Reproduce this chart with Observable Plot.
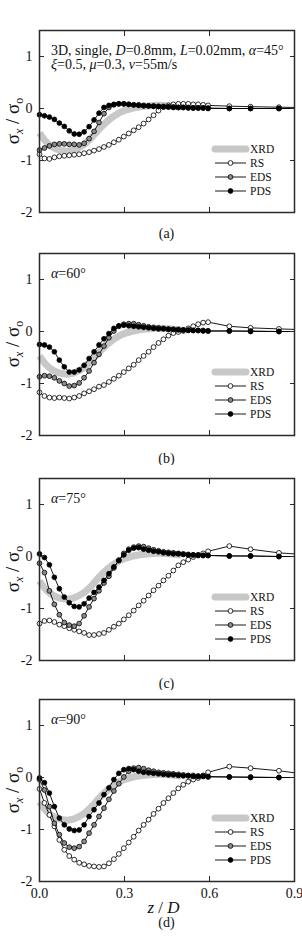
<!DOCTYPE html>
<html>
<head>
<meta charset="utf-8">
<script src="https://cdn.jsdelivr.net/npm/d3@7"></script>
<script src="https://cdn.jsdelivr.net/npm/@observablehq/plot@0.6"></script>
<style>
  body { margin: 0; background: #fff; }
  #chart svg { display: block; }
</style>
</head>
<body>
<div id="chart"></div>
<script>
// Normalised depth z/D of the sampled nodes: fine spacing near the surface, coarse below.
const zDense = [0, 0.0175, 0.035, 0.0525, 0.07, 0.0875, 0.105, 0.1225, 0.14, 0.1575,
  0.175, 0.1925, 0.21, 0.2275, 0.245, 0.2625, 0.28, 0.2975, 0.315, 0.3325,
  0.35, 0.3675, 0.385, 0.4025, 0.42, 0.4375, 0.455, 0.4725, 0.49, 0.5075,
  0.525, 0.5425, 0.56, 0.5775, 0.595];
const zTail = [0.67, 0.745, 0.845, 0.9];
const depth = [...zDense, ...zTail];

// Measured X-ray diffraction profile (same in every panel)
const xrdZ = [0, 0.02, 0.04, 0.06, 0.08, 0.1, 0.12, 0.15, 0.18, 0.21, 0.24, 0.27, 0.3, 0.33, 0.36, 0.4, 0.44, 0.48, 0.5];
const xrdS = [-0.47, -0.62, -0.72, -0.78, -0.81, -0.82, -0.80, -0.72, -0.58, -0.40, -0.24, -0.12, -0.04, 0.01, 0.04, 0.06, 0.06, 0.04, 0.03];

// (a) alpha = 45 deg
const rsA = [-0.88, -0.96, -0.97, -0.94, -0.92, -0.91, -0.90, -0.89, -0.88, -0.86,
  -0.84, -0.81, -0.78, -0.74, -0.70, -0.65, -0.60, -0.54, -0.48, -0.42,
  -0.36, -0.29, -0.21, -0.13, -0.04, 0.03, 0.06, 0.08, 0.09, 0.09,
  0.09, 0.08, 0.08, 0.07, 0.06, 0.045, 0.035, 0.025, 0.02];
const edsA = [-0.80, -0.76, -0.72, -0.69, -0.68, -0.68, -0.69, -0.69, -0.70, -0.67,
  -0.58, -0.44, -0.27, -0.10, 0.02, 0.07, 0.09, 0.09, 0.08, 0.07,
  0.07, 0.06, 0.05, 0.05, 0.04, 0.04, 0.03, 0.03, 0.02, 0.02,
  0.02, 0.01, 0.01, 0.01, 0.01, 0, 0, 0, 0];
const pdsA = [-0.12, -0.14, -0.165, -0.21, -0.28, -0.345, -0.43, -0.49, -0.495, -0.45,
  -0.35, -0.22, -0.09, 0.02, 0.06, 0.08, 0.09, 0.09, 0.08, 0.07,
  0.06, 0.05, 0.05, 0.04, 0.04, 0.03, 0.03, 0.02, 0.02, 0.02,
  0.01, 0.01, 0.01, 0.01, 0, 0, 0, 0, 0];

// (b) alpha = 60 deg
const rsB = [-1.17, -1.24, -1.27, -1.28, -1.27, -1.28, -1.29, -1.27, -1.24, -1.19,
  -1.15, -1.11, -1.06, -1.03, -0.97, -0.91, -0.85, -0.78, -0.71, -0.64,
  -0.55, -0.47, -0.39, -0.30, -0.22, -0.15, -0.08, -0.03, -0.01, 0.01,
  0.06, 0.10, 0.14, 0.17, 0.18, 0.10, 0.07, 0.05, 0.04];
const edsB = [-0.87, -0.85, -0.86, -0.89, -0.95, -1.00, -1.05, -1.04, -0.99, -0.89,
  -0.76, -0.60, -0.44, -0.28, -0.12, 0.01, 0.10, 0.14, 0.15, 0.15,
  0.13, 0.11, 0.09, 0.08, 0.07, 0.06, 0.05, 0.04, 0.04, 0.03,
  0.03, 0.02, 0.02, 0.02, 0.01, 0.01, 0.01, 0, 0];
const pdsB = [-0.25, -0.26, -0.30, -0.39, -0.55, -0.68, -0.78, -0.78, -0.74, -0.65,
  -0.52, -0.39, -0.26, -0.14, -0.04, 0.06, 0.11, 0.12, 0.11, 0.10,
  0.09, 0.08, 0.07, 0.06, 0.05, 0.05, 0.04, 0.04, 0.03, 0.03,
  0.02, 0.02, 0.02, 0.01, 0.01, 0.01, 0, 0, 0];

// (c) alpha = 75 deg
const rsC = [-1.29, -1.24, -1.23, -1.26, -1.31, -1.34, -1.38, -1.41, -1.44, -1.47,
  -1.51, -1.51, -1.49, -1.47, -1.41, -1.35, -1.29, -1.21, -1.13, -1.04,
  -0.94, -0.85, -0.75, -0.65, -0.56, -0.46, -0.37, -0.27, -0.17, -0.11,
  -0.06, -0.01, 0.03, 0.06, 0.10, 0.20, 0.14, 0.07, 0.05];
const edsC = [-0.13, -0.31, -0.66, -0.92, -1.12, -1.27, -1.32, -1.34, -1.29, -1.14,
  -0.97, -0.81, -0.66, -0.51, -0.38, -0.22, -0.07, 0.06, 0.14, 0.18,
  0.20, 0.19, 0.16, 0.13, 0.11, 0.09, 0.08, 0.07, 0.06, 0.05,
  0.04, 0.03, 0.03, 0.02, 0.02, 0.01, 0.01, 0, 0];
const pdsC = [0.05, -0.02, -0.16, -0.40, -0.62, -0.78, -0.89, -0.96, -0.97, -0.91,
  -0.80, -0.69, -0.59, -0.46, -0.33, -0.20, -0.08, 0.03, 0.12, 0.16,
  0.17, 0.14, 0.12, 0.10, 0.09, 0.07, 0.06, 0.05, 0.05, 0.04,
  0.03, 0.03, 0.02, 0.02, 0.02, 0.01, 0.01, 0, 0];

// (d) alpha = 90 deg
const rsD = [-0.22, -0.49, -0.72, -0.94, -1.20, -1.39, -1.51, -1.58, -1.64, -1.67,
  -1.70, -1.71, -1.72, -1.71, -1.65, -1.57, -1.47, -1.36, -1.25, -1.14,
  -1.02, -0.91, -0.81, -0.70, -0.60, -0.49, -0.40, -0.30, -0.21, -0.14,
  -0.08, -0.04, -0.01, 0.04, 0.10, 0.21, 0.18, 0.13, 0.09];
const edsD = [-0.04, -0.24, -0.56, -0.88, -1.10, -1.26, -1.34, -1.36, -1.33, -1.23,
  -1.07, -0.91, -0.75, -0.59, -0.42, -0.26, -0.12, 0.01, 0.12, 0.18,
  0.19, 0.17, 0.14, 0.12, 0.10, 0.09, 0.08, 0.07, 0.06, 0.05,
  0.04, 0.04, 0.03, 0.03, 0.02, 0.01, 0.01, 0, 0];
const pdsD = [-0.01, -0.10, -0.30, -0.56, -0.78, -0.91, -0.99, -1.02, -1.01, -0.91,
  -0.75, -0.62, -0.49, -0.33, -0.20, -0.04, 0.08, 0.15, 0.17, 0.15,
  0.12, 0.10, 0.09, 0.08, 0.07, 0.06, 0.05, 0.05, 0.04, 0.03,
  0.03, 0.02, 0.02, 0.02, 0.01, 0.01, 0, 0, 0];

const yTicks = [-2, -1, 0, 1];
const xTicks = [0, 0.3, 0.6, 0.9];
const seriesNames = ["XRD", "RS", "EDS", "PDS"];

const W = 302, ML = 39, MR = 8;
const SERIF = "'Liberation Serif', 'DejaVu Serif', serif";
const INK = "#2a2a2a";

const panels = [
  {tag: "(a)", rs: rsA, eds: edsA, pds: pdsA, height: 243, mt: 30, mb: 31, tagGap: 26,
   note: [[["3D, single, ", 0], ["D", 1], ["=0.8mm, ", 0], ["L", 1], ["=0.02mm, ", 0], ["α", 1], ["=45°", 0]],
          [["ξ", 1], ["=0.5, ", 0], ["μ", 1], ["=0.3, ", 0], ["v", 1], ["=55m/s", 0]]]},
  {tag: "(b)", rs: rsB, eds: edsB, pds: pdsB, height: 222, mt: 10, mb: 30, tagGap: 28,
   note: [[["α", 1], ["=60°", 0]]]},
  {tag: "(c)", rs: rsC, eds: edsC, pds: pdsC, height: 225, mt: 13, mb: 30, tagGap: 28,
   note: [[["α", 1], ["=75°", 0]]]},
  {tag: "(d)", rs: rsD, eds: edsD, pds: pdsD, height: 248, mt: 9, mb: 57, tagGap: 46, xLabels: true,
   note: [[["α", 1], ["=90°", 0]]]}
];

const styles = {
  XRD: {stroke: "#c8c8c8", width: 7},
  RS: {fill: "#ffffff"},
  EDS: {fill: "#8a8a8a"},
  PDS: {fill: "#000000"}
};

function rowsOf(vals) {
  return depth.map((z, i) => ({z, s: vals[i]}));
}

function drawPanel(p) {
  const xrd = xrdZ.map((z, i) => ({z, s: xrdS[i]}));
  const sets = [["RS", p.rs], ["EDS", p.eds], ["PDS", p.pds]];
  const marks = [
    Plot.line(xrd, {x: "z", y: "s", stroke: styles.XRD.stroke, strokeWidth: styles.XRD.width, curve: "catmull-rom", strokeLinecap: "butt"})
  ];
  for (const [name, vals] of sets) {
    const data = rowsOf(vals);
    marks.push(Plot.line(data, {x: "z", y: "s", stroke: "#000", strokeWidth: 0.9}));
    marks.push(Plot.dot(data.filter(d => d.z < 0.9), {x: "z", y: "s", r: 2.4, fill: styles[name].fill, stroke: "#000", strokeWidth: 0.8}));
  }
  marks.push(
    Plot.frame({stroke: INK, strokeWidth: 1.5}),
    Plot.axisY({ticks: yTicks, anchor: "left", tickSize: -5, tickPadding: 12, tickFormat: d => String(d), stroke: INK, fill: "#111", fontSize: 14, label: null}),
    Plot.axisY({ticks: [-1, 0, 1], anchor: "right", tickSize: -5, tickFormat: () => "", stroke: INK, label: null}),
    Plot.axisX({ticks: [0.3, 0.6], anchor: "top", tickSize: -5, tickFormat: () => "", stroke: INK, label: null}),
    Plot.axisX({ticks: p.xLabels ? xTicks : [0.3, 0.6], anchor: "bottom", tickSize: -5, tickPadding: 12,
      tickFormat: p.xLabels ? (d => d.toFixed(1)) : (() => ""), stroke: INK, fill: "#111", fontSize: 14, label: null})
  );

  const svg = Plot.plot({
    width: W,
    height: p.height,
    marginLeft: ML,
    marginRight: MR,
    marginTop: p.mt,
    marginBottom: p.mb,
    x: {domain: [0, 0.9], label: null},
    y: {domain: [-2, 1.5], label: null},
    style: {fontFamily: SERIF, fontSize: "14px", background: "#fff", overflow: "hidden"},
    marks
  });

  const s = d3.select(svg);
  const fTop = p.mt, fBot = p.height - p.mb, fRight = W - MR;

  // Parameter note in the upper-left corner
  p.note.forEach((line, li) => {
    const t = s.append("text")
      .attr("x", ML + 12).attr("y", fTop + 24.5 + li * 14.5)
      .attr("text-anchor", "start")
      .attr("font-family", SERIF).attr("font-size", 14).attr("fill", "#111");
    for (const [str, it] of line) {
      t.append("tspan").attr("font-style", it ? "italic" : "normal").text(str);
    }
  });

  // Legend in the lower-right corner
  const lg = s.append("g").attr("font-family", SERIF).attr("font-size", 11.5).attr("fill", "#111")
    .attr("text-anchor", "start");
  const offsets = [63, 49, 35, 21];
  seriesNames.forEach((name, i) => {
    const cy = fBot - offsets[i];
    const x1 = fRight - 79, x2 = fRight - 48, xm = (x1 + x2) / 2;
    if (name === "XRD") {
      lg.append("line").attr("x1", x1).attr("x2", x2).attr("y1", cy).attr("y2", cy)
        .attr("stroke", styles.XRD.stroke).attr("stroke-width", styles.XRD.width).attr("stroke-linecap", "round");
    } else {
      lg.append("line").attr("x1", x1).attr("x2", x2).attr("y1", cy).attr("y2", cy)
        .attr("stroke", "#000").attr("stroke-width", 0.9);
      lg.append("circle").attr("cx", xm).attr("cy", cy).attr("r", 2.4)
        .attr("fill", styles[name].fill).attr("stroke", "#000").attr("stroke-width", 0.8);
    }
    lg.append("text").attr("x", fRight - 44).attr("y", cy + 4).text(name);
  });

  // y-axis title: sigma_x / sigma_o
  const yt = s.append("text")
    .attr("transform", `translate(19,${(fTop + fBot) / 2}) rotate(-90)`)
    .attr("text-anchor", "middle").attr("font-family", SERIF).attr("font-size", 19).attr("fill", "#111");
  yt.append("tspan").text("σ");
  yt.append("tspan").attr("font-size", 12).attr("font-style", "italic").attr("dy", 4).text("x");
  yt.append("tspan").attr("dy", -4).text(" / σ");
  yt.append("tspan").attr("font-size", 12).attr("dy", 4).text("o");

  // x-axis title on the bottom panel
  if (p.xLabels) {
    const xt = s.append("text")
      .attr("x", (ML + fRight) / 2 - 3).attr("y", fBot + 32)
      .attr("text-anchor", "middle").attr("font-family", SERIF).attr("font-size", 17).attr("fill", "#111");
    xt.append("tspan").attr("font-style", "italic").text("z");
    xt.append("tspan").text(" / ");
    xt.append("tspan").attr("font-style", "italic").text("D");
  }

  // Panel tag below the frame
  s.append("text")
    .attr("x", (ML + fRight) / 2).attr("y", fBot + p.tagGap)
    .attr("text-anchor", "middle").attr("font-family", SERIF).attr("font-size", 14).attr("fill", "#111")
    .text(p.tag);

  return svg;
}

const root = document.getElementById("chart");
for (const p of panels) root.appendChild(drawPanel(p));
</script>
</body>
</html>
